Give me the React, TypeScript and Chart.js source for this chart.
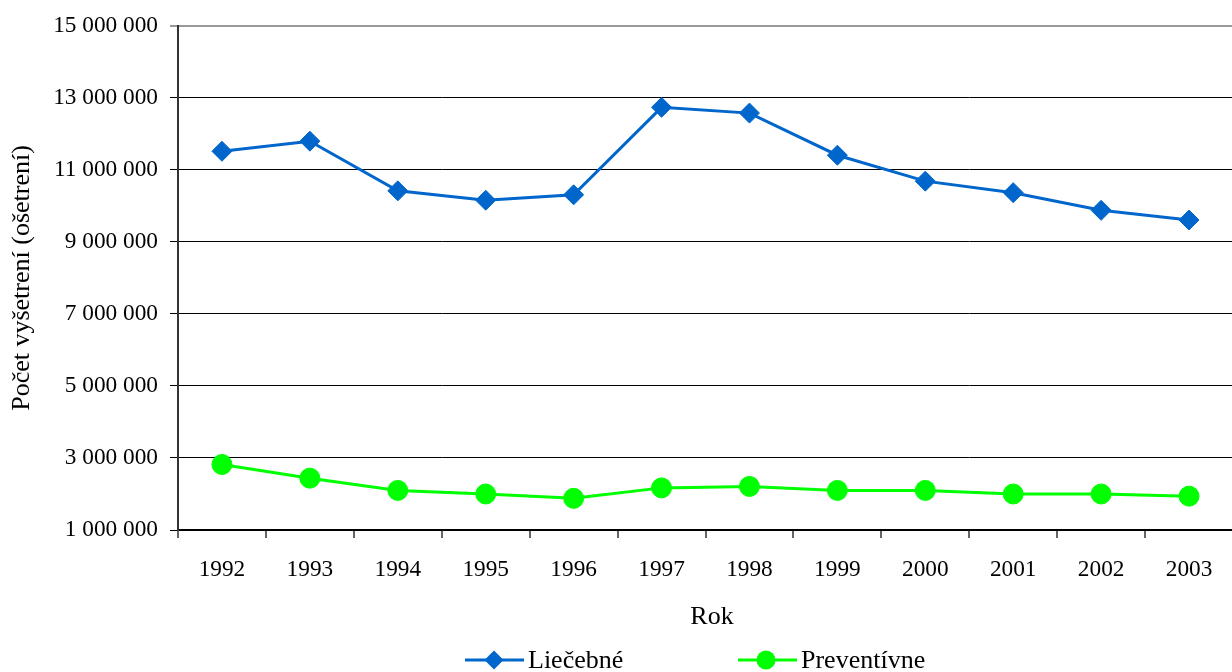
import React, { useEffect, useRef } from "react";
import { Chart, registerables } from "chart.js";

Chart.register(...registerables);

const years = ["1992", "1993", "1994", "1995", "1996", "1997", "1998", "1999", "2000", "2001", "2002", "2003"];
const liecebne = [11520000, 11800000, 10420000, 10160000, 10310000, 12740000, 12580000, 11410000, 10690000, 10370000, 9880000, 9610000];
const preventivne = [2820000, 2440000, 2100000, 2000000, 1880000, 2170000, 2210000, 2100000, 2100000, 2000000, 2000000, 1940000];
const seriesNames = ["Liečebné", "Preventívne"];
const xTitle = "Rok";
const yTitle = "Počet vyšetrení (ošetrení)";
const yMin = 1000000;
const yMax = 15000000;
const yStep = 2000000;

const FONT = "'Liberation Serif', 'Times New Roman', serif";
const BLUE = "#0066CC";
const GREEN = "#00FF00";

const fmt = (v: number) => {
  const s = Math.round(v).toString();
  return s.replace(/\B(?=(\d{3})+(?!\d))/g, " ");
};

const overlay = {
  id: "overlay",
  afterDraw(chart: any) {
    const ctx = chart.ctx;
    const area = chart.chartArea;
    ctx.save();
    ctx.fillStyle = "#000";
    ctx.font = `26px ${FONT}`;
    // Y title
    ctx.save();
    ctx.translate(22, (area.top + area.bottom) / 2);
    ctx.rotate(-Math.PI / 2);
    ctx.textAlign = "center";
    ctx.textBaseline = "middle";
    ctx.fillText(yTitle, 0, 0);
    ctx.restore();
    // X title
    ctx.textAlign = "center";
    ctx.textBaseline = "alphabetic";
    ctx.fillText(xTitle, 712, 624);
    // Legend
    const ly = 660;
    ctx.strokeStyle = BLUE;
    ctx.lineWidth = 3;
    ctx.beginPath();
    ctx.moveTo(465, ly);
    ctx.lineTo(524, ly);
    ctx.stroke();
    ctx.fillStyle = BLUE;
    ctx.beginPath();
    const r = 9.5;
    ctx.moveTo(494 - r, ly);
    ctx.lineTo(494, ly - r);
    ctx.lineTo(494 + r, ly);
    ctx.lineTo(494, ly + r);
    ctx.closePath();
    ctx.fill();
    ctx.fillStyle = "#000";
    ctx.textAlign = "left";
    ctx.fillText(seriesNames[0], 528, 668);
    ctx.strokeStyle = GREEN;
    ctx.beginPath();
    ctx.moveTo(738, ly);
    ctx.lineTo(797, ly);
    ctx.stroke();
    ctx.fillStyle = GREEN;
    ctx.beginPath();
    ctx.arc(766, ly, 9.5, 0, Math.PI * 2);
    ctx.fill();
    ctx.fillStyle = "#000";
    ctx.fillText(seriesNames[1], 801, 668);
    ctx.restore();
  },
};

export default function App() {
  const ref = useRef<HTMLCanvasElement>(null);
  useEffect(() => {
    if (!ref.current) return;
    Chart.defaults.font.family = FONT;
    const chart = new Chart(ref.current, {
      type: "line",
      data: {
        labels: years,
        datasets: [
          {
            label: seriesNames[0],
            data: liecebne,
            borderColor: BLUE,
            backgroundColor: BLUE,
            borderWidth: 3,
            pointStyle: "rectRot",
            pointRadius: 10,
            pointBorderWidth: 1,
            pointBackgroundColor: BLUE,
            pointBorderColor: BLUE,
            tension: 0,
          },
          {
            label: seriesNames[1],
            data: preventivne,
            borderColor: GREEN,
            backgroundColor: GREEN,
            borderWidth: 3,
            pointStyle: "circle",
            pointRadius: 10,
            pointBorderWidth: 1,
            pointBackgroundColor: GREEN,
            pointBorderColor: GREEN,
            tension: 0,
          },
        ],
      },
      options: {
        responsive: false,
        animation: false,
        devicePixelRatio: 1,
        layout: { padding: { top: 22, right: 0, left: 0, bottom: 0 } },
        plugins: { legend: { display: false }, tooltip: { enabled: false }, title: { display: false } },
        scales: {
          x: {
            type: "category",
            offset: true,
            grid: {
              offset: true,
              drawOnChartArea: false,
              drawTicks: true,
              tickLength: 8,
              color: "#666",
              lineWidth: 2,
            },
            border: { display: true, color: "#000", width: 1.5 },
            ticks: { color: "#000", font: { size: 23.3, family: FONT }, padding: 18, maxRotation: 0, autoSkip: false },
            afterFit: (s: any) => {
              s.height = 142;
            },
          },
          y: {
            min: yMin,
            max: yMax,
            grid: {
              color: (c: any) => (c.tick && c.tick.value === yMax ? "#999" : "#000"),
              lineWidth: (c: any) => (c.tick && c.tick.value === yMax ? 2 : 1),
              tickLength: 8,
              drawTicks: true,
            },
            border: { display: true, color: "#333", width: 2 },
            ticks: {
              stepSize: yStep,
              color: "#000",
              font: { size: 23.3, family: FONT },
              padding: 12,
              callback: (v: any) => fmt(Number(v)),
            },
            afterFit: (s: any) => {
              s.width = 178;
            },
          },
        },
      },
      plugins: [overlay],
    } as any);
    return () => chart.destroy();
  }, []);
  return (
    <div style={{ position: "fixed", left: 0, top: 0, width: 1232, height: 672, overflow: "hidden", background: "#fff" }}>
      <canvas ref={ref} width={1244} height={672} style={{ display: "block", width: 1244, height: 672 }} />
    </div>
  );
}
